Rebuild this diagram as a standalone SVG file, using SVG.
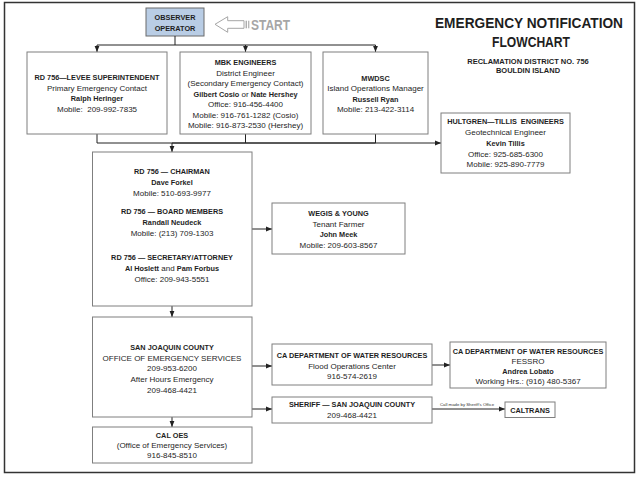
<svg xmlns="http://www.w3.org/2000/svg" width="640" height="480" viewBox="0 0 640 480">
<style>
.frame{fill:#fff;stroke:#333;stroke-width:1.5}
.box{fill:#fff;stroke:#7f7f7f;stroke-width:1}
.obs{fill:#b9cde5;stroke:#6b6b6b;stroke-width:1}
.t{font-family:"Liberation Sans",Arial,sans-serif;font-size:8px;fill:#1e1e1e;text-anchor:middle}
.b{font-weight:bold;font-size:7.3px}
.c{fill:none;stroke:#222;stroke-width:1}
.ttl{font-family:"Liberation Sans",Arial,sans-serif;font-weight:bold;fill:#1e1e1e;text-anchor:middle}
</style>
<defs>
<marker id="ah" viewBox="0 0 6 6" refX="6" refY="3" markerWidth="6" markerHeight="6" markerUnits="userSpaceOnUse" orient="auto">
<path d="M0,0.6 L6,3 L0,5.4 Z" fill="#222"/>
</marker>
</defs>
<rect class="frame" x="4.5" y="2.5" width="630" height="470"/>

<g id="title">
<text class="ttl" x="529" y="28" font-size="14" textLength="188" lengthAdjust="spacingAndGlyphs">EMERGENCY NOTIFICATION</text>
<text class="ttl" x="531" y="47" font-size="14.5" textLength="78" lengthAdjust="spacingAndGlyphs">FLOWCHART</text>
<text class="ttl" x="528" y="64" font-size="7.5">RECLAMATION DISTRICT NO. 756</text>
<text class="ttl" x="528" y="72.5" font-size="7.5">BOULDIN ISLAND</text>
</g>

<g id="start">
<path d="M215,24.3 L227.7,16.7 L227.7,20.7 L244,20.7 L244,28.3 L227.7,28.3 L227.7,32.3 Z" fill="#fff" stroke="#a6a6a6" stroke-width="1"/>
<rect x="245.6" y="20.7" width="1.3" height="7.6" fill="#a6a6a6"/>
<rect x="248.2" y="20.7" width="1.1" height="7.6" fill="#a6a6a6"/>
<text x="251" y="29.5" font-family="Liberation Sans,Arial,sans-serif" font-weight="bold" font-size="14" fill="#a6a6a6" textLength="39" lengthAdjust="spacingAndGlyphs">START</text>
</g>

<g id="observer">
<rect class="obs" x="146" y="8" width="58" height="28"/>
<text class="t b" x="175" y="20" font-size="7">OBSERVER</text>
<text class="t b" x="175" y="30.5" font-size="7">OPERATOR</text>
</g>

<g id="connectors">
<path class="c" d="M175,36 V45"/>
<path class="c" d="M97,45 H375.5"/>
<path class="c" d="M97,45 V52" marker-end="url(#ah)"/>
<path class="c" d="M245.5,45 V52" marker-end="url(#ah)"/>
<path class="c" d="M375.5,45 V52" marker-end="url(#ah)"/>
<path class="c" d="M97,134 V143 H375.5"/>
<path class="c" d="M245.5,134 V143"/>
<path class="c" d="M375.5,134 V143"/>
<path class="c" d="M172,143 H441" marker-end="url(#ah)"/>
<path class="c" d="M172,143 V152" marker-end="url(#ah)"/>
<path class="c" d="M252,229 H272" marker-end="url(#ah)"/>
<path class="c" d="M172,306 V317" marker-end="url(#ah)"/>
<path class="c" d="M252,366 H272" marker-end="url(#ah)"/>
<path class="c" d="M252,409 H272" marker-end="url(#ah)"/>
<path class="c" d="M172,417 V427" marker-end="url(#ah)"/>
<path class="c" d="M432,365 H450" marker-end="url(#ah)"/>
<path class="c" d="M432,409 H505" marker-end="url(#ah)"/>
<text x="467" y="405.5" font-family="Liberation Sans,Arial,sans-serif" font-size="4.3" fill="#333" text-anchor="middle">Call made by Sheriff’s Office</text>
</g>

<g id="levee">
<rect class="box" x="27" y="52" width="140" height="82"/>
<text class="t b" x="97" y="80">RD 756—LEVEE SUPERINTENDENT</text>
<text class="t" x="97" y="90.5">Primary Emergency Contact</text>
<text class="t b" x="97" y="101">Ralph Heringer</text>
<text class="t" x="97" y="111.5" xml:space="preserve">Mobile:  209-992-7835</text>
</g>

<g id="mbk">
<rect class="box" x="180" y="52" width="131" height="82"/>
<text class="t b" x="245.5" y="65">MBK ENGINEERS</text>
<text class="t" x="245.5" y="75.5">District Engineer</text>
<text class="t" x="245.5" y="86">(Secondary Emergency Contact)</text>
<text class="t" x="245.5" y="96.5"><tspan class="b">Gilbert Cosio</tspan> or <tspan class="b">Nate Hershey</tspan></text>
<text class="t" x="245.5" y="107">Office: 916-456-4400</text>
<text class="t" x="245.5" y="117.5">Mobile: 916-761-1282 (Cosio)</text>
<text class="t" x="245.5" y="128">Mobile: 916-873-2530 (Hershey)</text>
</g>

<g id="mwdsc">
<rect class="box" x="323" y="52" width="105" height="82"/>
<text class="t b" x="375.5" y="80.5">MWDSC</text>
<text class="t" x="375.5" y="91">Island Operations Manager</text>
<text class="t b" x="375.5" y="101.5">Russell Ryan</text>
<text class="t" x="375.5" y="112">Mobile: 213-422-3114</text>
</g>

<g id="hultgren">
<rect class="box" x="441" y="113" width="129" height="60"/>
<text class="t b" x="505.5" y="124" xml:space="preserve">HULTGREN—TILLIS  ENGINEERS</text>
<text class="t" x="505.5" y="135">Geotechnical Engineer</text>
<text class="t b" x="505.5" y="146">Kevin Tillis</text>
<text class="t" x="505.5" y="156.5">Office: 925-685-6300</text>
<text class="t" x="505.5" y="167">Mobile: 925-890-7779</text>
</g>

<g id="chairman">
<rect class="box" x="92.5" y="152" width="159.5" height="154"/>
<text class="t b" x="172" y="174">RD 756 — CHAIRMAN</text>
<text class="t b" x="172" y="185">Dave Forkel</text>
<text class="t" x="172" y="195.5">Mobile: 510-693-9977</text>
<text class="t b" x="172" y="214">RD 756 — BOARD MEMBERS</text>
<text class="t b" x="172" y="225">Randall Neudeck</text>
<text class="t" x="172" y="235.5">Mobile: (213) 709-1303</text>
<text class="t b" x="172" y="260">RD 756 — SECRETARY/ATTORNEY</text>
<text class="t" x="172" y="271"><tspan class="b">Al Hoslett</tspan> and <tspan class="b">Pam Forbus</tspan></text>
<text class="t" x="172" y="281.5">Office: 209-943-5551</text>
</g>

<g id="wegis">
<rect class="box" x="272" y="203" width="133" height="51"/>
<text class="t b" x="338.5" y="216">WEGIS &amp; YOUNG</text>
<text class="t" x="338.5" y="226.5">Tenant Farmer</text>
<text class="t b" x="338.5" y="237">John Meek</text>
<text class="t" x="338.5" y="247.5">Mobile: 209-603-8567</text>
</g>

<g id="sjcoes">
<rect class="box" x="92.5" y="317" width="159.5" height="100"/>
<text class="t b" x="172" y="350">SAN JOAQUIN COUNTY</text>
<text class="t" x="172" y="360.5">OFFICE OF EMERGENCY SERVICES</text>
<text class="t" x="172" y="371">209-953-6200</text>
<text class="t" x="172" y="382">After Hours Emergency</text>
<text class="t" x="172" y="392.5">209-468-4421</text>
</g>

<g id="caloes">
<rect class="box" x="92.5" y="427" width="159.5" height="36"/>
<text class="t b" x="172" y="437.5">CAL OES</text>
<text class="t" x="172" y="448">(Office of Emergency Services)</text>
<text class="t" x="172" y="458">916-845-8510</text>
</g>

<g id="dwr">
<rect class="box" x="272" y="344" width="160" height="41"/>
<text class="t b" x="352" y="357.5">CA DEPARTMENT OF WATER RESOURCES</text>
<text class="t" x="352" y="368.5">Flood Operations Center</text>
<text class="t" x="352" y="379">916-574-2619</text>
</g>

<g id="fessro">
<rect class="box" x="450" y="342" width="156" height="46"/>
<text class="t b" x="528" y="353.5">CA DEPARTMENT OF WATER RESOURCES</text>
<text class="t" x="528" y="363.5">FESSRO</text>
<text class="t b" x="528" y="373.5">Andrea Lobato</text>
<text class="t" x="528" y="384">Working Hrs.: (916) 480-5367</text>
</g>

<g id="sheriff">
<rect class="box" x="272" y="397" width="160" height="26"/>
<text class="t b" x="352" y="407">SHERIFF — SAN JOAQUIN COUNTY</text>
<text class="t" x="352" y="417.5">209-468-4421</text>
</g>

<g id="caltrans">
<rect class="box" x="505" y="402" width="50" height="15.5"/>
<text class="t b" x="530" y="412.8" font-size="7.8">CALTRANS</text>
</g>
</svg>
